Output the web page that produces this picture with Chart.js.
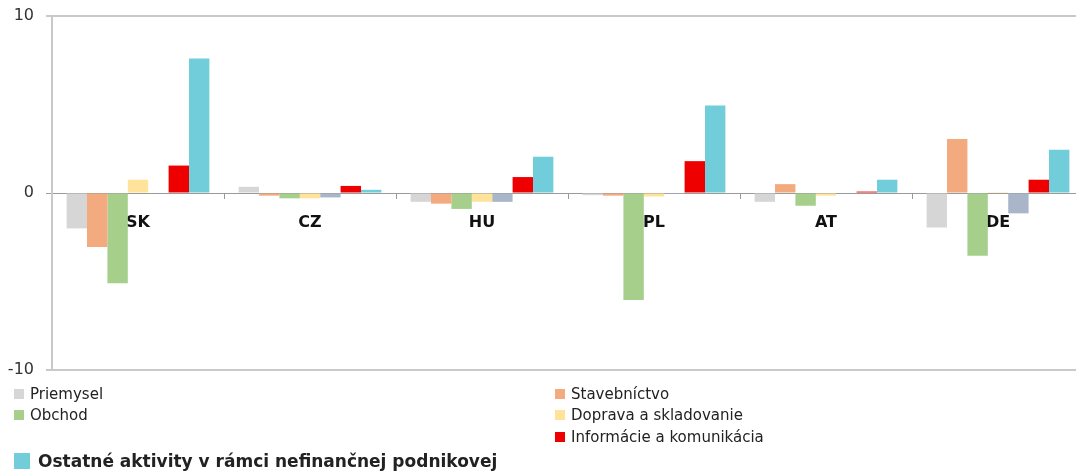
<!DOCTYPE html>
<html lang="sk">
<head>
  <meta charset="UTF-8" />
  <title>Odvetvia - zmena</title>
  <script src="https://cdn.jsdelivr.net/npm/chart.js"></script>
  <style>
    html, body { margin: 0; padding: 0; background: #fff; overflow: hidden; }
    .wrap { position: relative; width: 1084px; height: 472px; }
    .legenda { position: absolute; left: 0; top: 0; font-family: "DejaVu Sans", sans-serif; color: #222; }
    .legenda div { position: absolute; white-space: nowrap; font-size: 15px; line-height: 18px; }
    .legenda span { display: inline-block; width: 10px; height: 10px; margin-right: 6px; vertical-align: 0px; }
    .legenda .velka { font-size: 17px; font-weight: bold; }
    .legenda .velka span { width: 16px; height: 16px; margin-right: 8px; vertical-align: -2px; }
  </style>
</head>
<body>
  <div class="wrap">
    <canvas id="graf" width="1084" height="472"></canvas>
    <div class="legenda" id="legenda"></div>
  </div>

  <script>
    const krajiny = ['SK', 'CZ', 'HU', 'PL', 'AT', 'DE'];
    const yTicky = [-10, 0, 10];

    const priemysel    = [-2.0,  0.35, -0.5, -0.12, -0.5, -1.95];
    const stavebnictvo = [-3.05, -0.15, -0.6, -0.15,  0.5,  3.05];
    const obchod       = [-5.1, -0.3, -0.9, -6.05, -0.72, -3.55];
    const doprava      = [ 0.75, -0.3, -0.5, -0.2, -0.15,  0.05];
    const sluzby       = [ 0.0, -0.25, -0.5, -0.05,  0.0, -1.15];
    const informacie   = [ 1.55,  0.4,  0.9,  1.8,  0.08,  0.75];
    const ostatne      = [ 7.6,  0.18,  2.05,  4.95,  0.75,  2.45];

    const serie = [
      { label: 'Priemysel', data: priemysel, farba: '#d6d6d6', legenda: true },
      { label: 'Stavebníctvo', data: stavebnictvo, farba: '#f2aa7e', legenda: true },
      { label: 'Obchod', data: obchod, farba: '#a6cf8c', legenda: true },
      { label: 'Doprava a skladovanie', data: doprava, farba: '#ffe39a', legenda: true },
      { label: 'Ostatné služby', data: sluzby, farba: '#a9b6ca', legenda: false },
      { label: 'Informácie a komunikácia', data: informacie, farba: '#ee0000', legenda: true },
      { label: 'Ostatné aktivity v rámci nefinančnej podnikovej', data: ostatne, farba: '#72cddb', legenda: true }
    ];

    new Chart(document.getElementById('graf'), {
      type: 'bar',
      data: {
        labels: krajiny,
        datasets: serie.map(s => ({
          label: s.label,
          data: s.data,
          backgroundColor: s.farba,
          borderWidth: 0,
          categoryPercentage: 0.83,
          barPercentage: 1.0
        }))
      },
      options: {
        responsive: false,
        animation: false,
        layout: { padding: { top: 16, bottom: 102, left: 0, right: 0 } },
        plugins: { legend: { display: false }, tooltip: { enabled: false } },
        scales: {
          x: {
            position: { y: 0 },
            grid: { drawOnChartArea: false, tickLength: 5, color: '#999', offset: true },
            border: { color: '#9a9a9a', width: 1 },
            ticks: {
              padding: 15,
              color: '#111',
              font: { family: 'DejaVu Sans', size: 16, weight: 'bold' }
            }
          },
          y: {
            min: -10,
            max: 10,
            afterFit: s => { s.width = 52; },
            afterBuildTicks: s => { s.ticks = yTicky.map(v => ({ value: v })); },
            grid: {
              color: c => c.tick && c.tick.value === 0 ? '#a0a0a0' : '#c9c9c9',
              lineWidth: c => c.tick && c.tick.value === 0 ? 1 : 2,
              tickLength: 6
            },
            border: { color: '#c9c9c9', width: 2 },
            ticks: {
              padding: 12,
              color: '#333',
              // maly lineHeight, aby os nepridavala horny okraj
              font: { family: 'DejaVu Sans', size: 16, lineHeight: 0.4 }
            }
          }
        }
      }
    });

    // legenda je rozlozena ako v povodnom grafe
    const pozicie = [
      [14, 385], [555, 385], [14, 406], [555, 406], [555, 428], [14, 452]
    ];
    const leg = document.getElementById('legenda');
    serie.filter(s => s.legenda).forEach((s, i) => {
      const d = document.createElement('div');
      if (i === 5) d.className = 'velka';
      d.style.left = pozicie[i][0] + 'px';
      d.style.top = pozicie[i][1] + 'px';
      d.innerHTML = '<span style="background:' + s.farba + '"></span>' + s.label;
      leg.appendChild(d);
    });
  </script>
</body>
</html>
